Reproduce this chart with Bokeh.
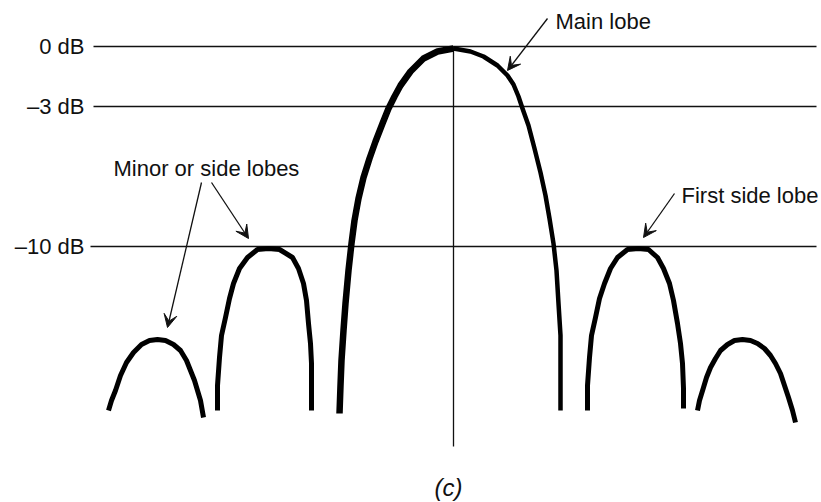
from bokeh.plotting import figure
from bokeh.models import Arrow, VeeHead, ColumnDataSource
from bokeh.core.properties import value
from bokeh.embed import file_html
from bokeh.resources import INLINE

# Reference levels (dB)
levels = [0, -3, -10]
level_labels = ["0 dB", "\u20133 dB", "\u201310 dB"]
level_start = [-72.0, -72.0, -72.6]
level_end = [72.6, 72.6, 72.6]

# Lobe outlines (x: angle in degrees, y: relative power in dB)
main_x = [-22.8, -22.6, -22.4, -22.0, -21.6, -21.0, -20.4, -19.8, -19.0, -18.0, -16.8, -15.6,
          -14.2, -13.0, -11.8, -10.6, -8.6, -6.0, -3.2, 0.0,
          3.4, 6.0, 8.8, 10.8, 12.0, 13.0, 13.8, 15.0, 16.2, 17.4, 18.4, 19.2, 20.0, 20.6,
          21.0, 21.4, 21.4, 21.4, 21.4]
main_y = [-18.35, -16.95, -15.7, -14.2, -12.85, -11.2, -9.85, -8.7, -7.6, -6.55, -5.6, -4.75,
          -3.85, -3.1, -2.5, -1.95, -1.25, -0.6, -0.25, -0.1,
          -0.25, -0.5, -0.95, -1.45, -1.9, -2.5, -3.1, -3.95, -5.1, -6.3, -7.45, -8.6, -9.85, -11.2,
          -12.85, -14.45, -15.7, -16.95, -18.2]

side_left_x = [-47.2, -47.2, -46.8, -46.4, -45.6, -44.8, -44.0, -42.8, -41.2, -39.2, -37.0,
               -34.8, -32.2, -31.0, -30.0, -29.4, -29.0, -28.6, -28.4, -28.4, -28.4]
side_left_y = [-18.2, -16.95, -15.55, -14.45, -13.55, -12.6, -11.85, -11.1, -10.55, -10.15, -10.1,
               -10.15, -10.55, -11.1, -11.85, -12.7, -13.85, -14.85, -15.85, -17.1, -18.2]

side_right_x = [26.8, 26.8, 27.2, 27.6, 28.4, 29.2, 30.2, 31.4, 32.8, 34.8, 37.0,
                39.0, 40.8, 42.0, 43.2, 44.0, 44.8, 45.4, 45.8, 46.0, 46.0]
side_right_y = [-18.2, -16.95, -15.55, -14.45, -13.55, -12.6, -11.85, -11.1, -10.55, -10.15, -10.1,
                -10.15, -10.55, -11.1, -11.85, -12.7, -13.85, -14.85, -15.85, -17.1, -18.1]

outer_left_x = [-69.0, -68.4, -67.6, -66.6, -65.4, -64.0, -62.4, -60.8, -59.2, -57.6, -56.0,
                -54.6, -53.4, -52.6, -51.8, -51.2, -50.6, -50.0]
outer_left_y = [-18.2, -17.7, -17.2, -16.45, -15.8, -15.3, -14.9, -14.7, -14.65, -14.7, -14.9,
                -15.2, -15.7, -16.2, -16.7, -17.2, -17.7, -18.55]

outer_right_x = [48.8, 49.2, 50.0, 50.6, 51.4, 52.4, 53.4, 54.8, 56.2, 57.8, 59.4, 60.8,
                 62.2, 63.4, 64.4, 65.4, 66.2, 67.0, 67.8, 68.4]
outer_right_y = [-18.2, -17.7, -17.05, -16.55, -16.05, -15.6, -15.2, -14.9, -14.7, -14.65, -14.7, -14.85,
                 -15.1, -15.45, -15.85, -16.35, -16.95, -17.55, -18.2, -18.8]

# Boresight line
axis_x = [0.0, 0.0]
axis_y = [0.0, -20.0]

# Annotations
ann_text = ["Main lobe", "First side lobe", "Minor or side lobes"]
ann_x = [20.4, 45.6, -68.0]
ann_y = [1.25, -7.45, -6.1]
arrow_x0 = [18.8, 44.2, -50.4, -48.4]
arrow_y0 = [1.4, -7.35, -6.8, -6.8]
arrow_x1 = [10.8, 38.0, -57.2, -41.0]
arrow_y1 = [-1.2, -9.55, -14.05, -9.6]
caption = ["(c)"]
caption_x = [-1.0]
caption_y = [-22.05]

FONT = value("Liberation Sans")
INK = "#111111"

p = figure(width=821, height=502, x_range=(-90.6, 73.6), y_range=(-22.8, 2.3),
           output_backend="svg", toolbar_location=None, min_border=0,
           x_axis_location=None, y_axis_location=None)
p.xgrid.visible = False
p.ygrid.visible = False
p.outline_line_color = None
p.background_fill_color = "white"
p.border_fill_color = "white"

# level lines
p.segment(x0=level_start, y0=levels, x1=level_end, y1=levels, line_color=INK, line_width=1.6)
p.text(x=[-73.8] * 3, y=levels, text=level_labels, text_font=FONT, text_font_size=value("22px"),
       text_align="right", text_baseline="middle", text_color=INK)

# boresight
p.line(axis_x, axis_y, line_color=INK, line_width=1.3)

# lobes (left flanks drawn a little heavier, as in the original ink drawing)
peak = main_y.index(max(main_y))
p.line(main_x[:peak + 1], main_y[:peak + 1], line_color="black", line_width=6.5, line_join="round")
p.line(main_x[peak:], main_y[peak:], line_color="black", line_width=4.5, line_join="round")
for xs, ys in [(side_left_x, side_left_y), (side_right_x, side_right_y),
               (outer_left_x, outer_left_y), (outer_right_x, outer_right_y)]:
    p.line(xs, ys, line_color="black", line_width=5, line_join="round", line_cap="butt")

# annotations
p.text(x=ann_x, y=ann_y, text=ann_text, text_font=FONT, text_font_size=value("22px"),
       text_align="left", text_baseline="middle", text_color=INK)
src = ColumnDataSource(dict(x0=arrow_x0, y0=arrow_y0, x1=arrow_x1, y1=arrow_y1))
p.add_layout(Arrow(source=src, x_start="x0", y_start="y0", x_end="x1", y_end="y1",
                   line_color=INK, line_width=1.3,
                   end=VeeHead(size=13, fill_color=INK, line_color=INK, line_width=1)))

p.text(x=caption_x, y=caption_y, text=caption, text_font=FONT, text_font_size=value("24px"),
       text_font_style="italic", text_align="center", text_baseline="middle", text_color=INK)

open("out.html", "w").write(file_html(p, INLINE))
